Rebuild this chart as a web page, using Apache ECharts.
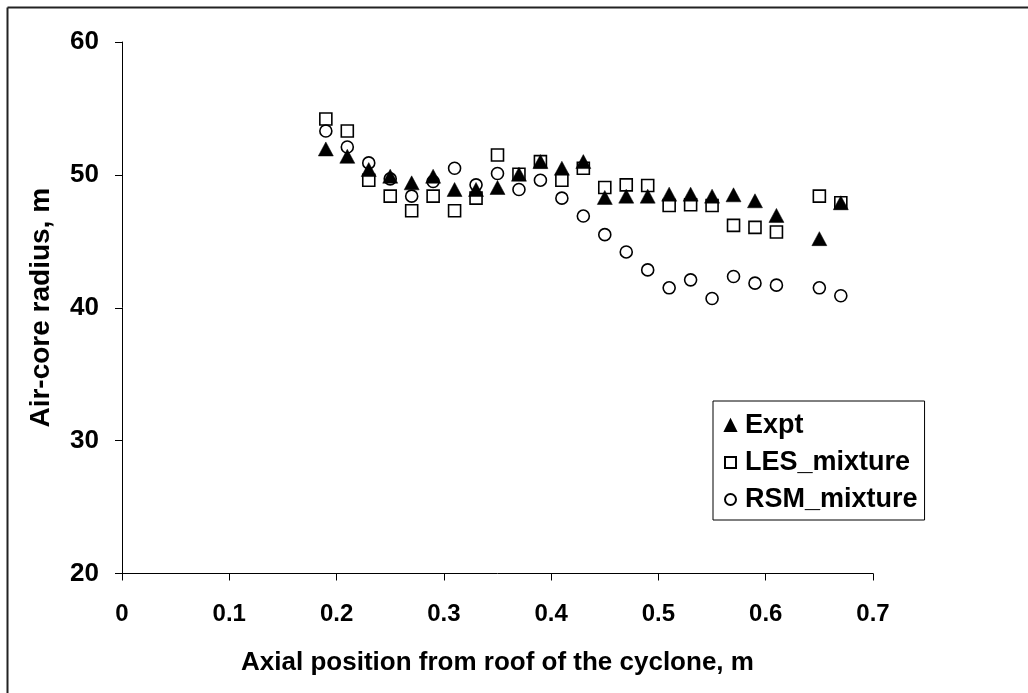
<!DOCTYPE html>
<html>
<head>
<meta charset="utf-8">
<script src="https://cdn.jsdelivr.net/npm/echarts@6/dist/echarts.min.js"></script>
<style>html,body{margin:0;padding:0;background:#fff}#c{width:1028px;height:693px}</style>
</head>
<body>
<div id="c"></div>
<script>
const positions = [0.19,0.21,0.23,0.25,0.27,0.29,0.31,0.33,0.35,0.37,0.39,0.41,0.43,0.45,0.47,0.49,0.51,0.53,0.55,0.57,0.59,0.61,0.65,0.67];
const exptValues = [51.95,51.4,50.4,49.9,49.4,49.9,48.9,48.9,49.05,50.05,51.0,50.5,51.0,48.3,48.4,48.4,48.55,48.55,48.4,48.5,48.05,46.95,45.2,47.9];
const lesValues  = [54.2,53.3,49.6,48.4,47.3,48.4,47.3,48.25,51.5,50.05,51.0,49.6,50.5,49.05,49.25,49.2,47.7,47.75,47.7,46.2,46.05,45.7,48.4,47.9];
const rsmValues  = [53.3,52.1,50.9,49.7,48.4,49.5,50.5,49.25,50.1,48.9,49.6,48.25,46.9,45.5,44.2,42.85,41.5,42.1,40.7,42.35,41.85,41.7,41.5,40.9];
const seriesNames = ['Expt','LES_mixture','RSM_mixture'];
const xTitle = 'Axial position from roof of the cyclone, m';
const yTitle = 'Air-core radius, m';

const pairs = v => positions.map((x,i)=>[x,v[i]]);
const FONT = '"Liberation Sans", Arial, sans-serif';
const chart = echarts.init(document.getElementById('c'), null, {renderer:'canvas'});
chart.setOption({
  animation:false,
  backgroundColor:'#fff',
  grid:{left:122,right:155,top:42,bottom:119.5,containLabel:false},
  xAxis:{
    type:'value',min:0,max:0.7,interval:0.1,
    name:xTitle,nameLocation:'middle',nameGap:76,
    nameTextStyle:{fontFamily:FONT,fontWeight:'bold',fontSize:26,color:'#000'},
    axisLine:{show:true,onZero:false,lineStyle:{color:'#000',width:1}},
    axisTick:{show:true,inside:false,length:7,lineStyle:{color:'#000'}},
    axisLabel:{margin:29,fontFamily:FONT,fontWeight:'bold',fontSize:24,color:'#000'},
    splitLine:{show:false}
  },
  yAxis:{
    type:'value',min:20,max:60,interval:10,
    name:yTitle,nameLocation:'middle',nameGap:67,nameRotate:90,
    nameTextStyle:{fontFamily:FONT,fontWeight:'bold',fontSize:28,color:'#000'},
    axisLine:{show:true,onZero:false,lineStyle:{color:'#000',width:1}},
    axisTick:{show:true,inside:false,length:7,lineStyle:{color:'#000'}},
    axisLabel:{margin:23,fontFamily:FONT,fontWeight:'bold',fontSize:26,color:'#000'},
    splitLine:{show:false}
  },
  legend:{
    orient:'vertical',left:713,top:401,
    backgroundColor:'#fff',borderColor:'#000',borderWidth:1,
    padding:[11,7,7,11],itemGap:10,itemWidth:11,itemHeight:11,
    textStyle:{fontFamily:FONT,fontWeight:'bold',fontSize:27,color:'#000',padding:[0,0,0,4]},
    data:seriesNames
  },
  series:[
    {name:seriesNames[0],type:'scatter',symbol:'triangle',symbolSize:[15,14],
     itemStyle:{color:'#000',borderColor:'#000',borderWidth:0.5,opacity:1},data:pairs(exptValues),z:3},
    {name:seriesNames[1],type:'scatter',symbol:'rect',symbolSize:12,
     itemStyle:{color:'rgba(255,255,255,0)',borderColor:'#000',borderWidth:1.6,opacity:1},data:pairs(lesValues),z:2},
    {name:seriesNames[2],type:'scatter',symbol:'circle',symbolSize:12,
     itemStyle:{color:'rgba(255,255,255,0)',borderColor:'#000',borderWidth:1.6,opacity:1},data:pairs(rsmValues),z:2}
  ],
  graphic:[
    {type:'line',shape:{x1:7.5,y1:7.5,x2:1028,y2:7.5},style:{stroke:'#222',lineWidth:2}},
    {type:'line',shape:{x1:7.5,y1:7.5,x2:7.5,y2:693},style:{stroke:'#222',lineWidth:2}}
  ]
});
</script>
</body>
</html>
